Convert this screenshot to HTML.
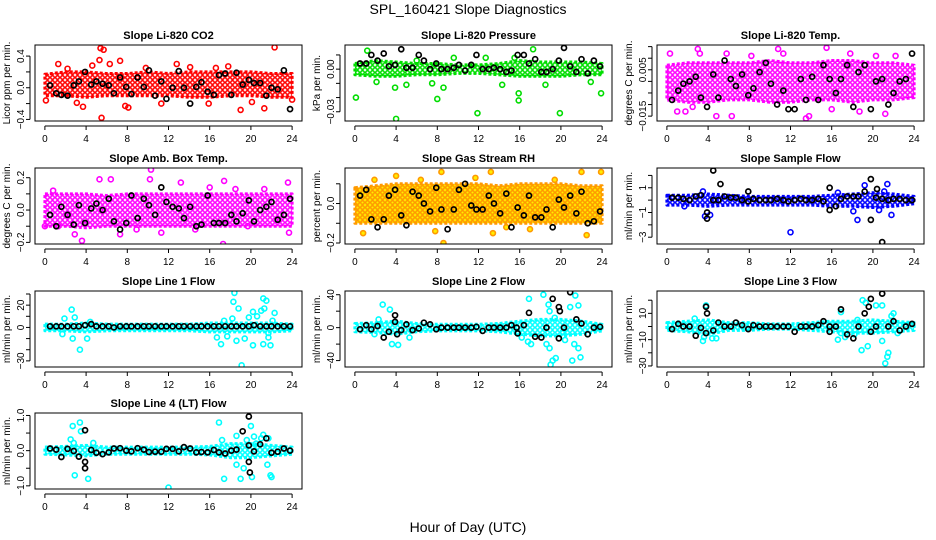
<!DOCTYPE html>
<html><head><meta charset="utf-8"><style>
html,body{margin:0;padding:0;background:#fff;}
svg{display:block;font-family:"Liberation Sans",sans-serif;}
</style></head><body>
<svg id="chart" width="936" height="540" viewBox="0 0 936 540">
<text x="468" y="14" text-anchor="middle" font-size="14">SPL_160421  Slope Diagnostics</text>
<text x="468" y="532" text-anchor="middle" font-size="14">Hour of Day (UTC)</text>
</svg>
<script>
// shared hours
const bandHours=[0,2,4,6,8,10,12,14,16,18,20,22,24];
const blkHours=[0.5,1.1,1.6,2.2,2.8,3.3,3.9,4.5,5.0,5.6,6.2,6.7,7.3,7.9,8.4,9.0,9.6,10.1,10.7,11.3,11.8,12.4,13.0,13.5,14.1,14.7,15.2,15.8,16.4,16.9,17.5,18.1,18.6,19.2,19.8,20.3,20.9,21.5,22.0,22.6,23.2,23.8];
const xTicks=[0,4,8,12,16,20,24];

// P1 CO2
const p1Lo=[-0.1,-0.1,-0.12,-0.1,-0.1,-0.1,-0.1,-0.12,-0.12,-0.1,-0.1,-0.12,-0.12];
const p1Hi=[0.17,0.2,0.2,0.18,0.18,0.2,0.18,0.2,0.2,0.2,0.2,0.18,0.18];
const p1Out=[5.4,0.5,5.7,0.48,5.5,-0.38,7.3,0.34,5.3,0.35,22.3,0.51,19.0,-0.28,21.3,-0.26,8.1,-0.25,7.8,-0.23,3.7,-0.24,2.2,0.24,11.3,-0.2,12.8,0.3,1.3,0.3,17.8,0.27,24,-0.15,0.1,-0.16,16.6,0.25,14.1,0.26,9.8,0.25,6.3,0.3,4.6,0.28,15.9,-0.2,20.1,-0.18,3.1,-0.19];
const p1Blk=[0.03,-0.07,-0.09,-0.1,0.03,0.08,0.2,0.04,0.08,0.05,0.03,-0.07,0.13,0.01,-0.08,0.13,0.01,0.22,-0.1,0.08,-0.14,0.0,0.21,0.0,-0.2,0.01,0.07,-0.05,-0.09,0.16,0.18,-0.09,0.19,0.04,0.1,0.06,0.06,-0.1,0.0,-0.02,0.22,-0.27];
// P2 Pressure
const p2Lo=[-0.004,-0.005,-0.005,-0.004,-0.004,-0.003,-0.003,-0.004,-0.005,-0.005,-0.005,-0.004,-0.004];
const p2Hi=[0.004,0.006,0.005,0.004,0.004,0.003,0.003,0.004,0.006,0.005,0.005,0.005,0.004];
const p2Out=[0.1,-0.02,4.0,-0.035,3.9,-0.013,8,-0.021,8.6,-0.013,11.9,-0.031,19.9,-0.031,15.9,-0.017,15.9,-0.022,23.9,-0.017,7.5,-0.01,14.3,-0.011,1.2,0.013,17.3,0.014,9.6,0.008,12.7,0.008,22.9,-0.009,18.5,-0.011,2.1,-0.009,5.0,-0.011,6.0,0.006,15.5,0.008];
const p2Blk=[0.004,0.004,0.01,0.006,0.011,0.002,0.003,0.014,0.001,0.001,0.01,0.006,0.0,0.004,0.0,0.0,0.001,0.003,-0.001,0.003,0.01,0.0,0.0,0.001,0.0,-0.002,-0.001,0.01,0.01,0.004,0.007,-0.002,-0.002,0.0,0.006,0.015,0.002,-0.002,0.007,-0.003,0.006,0.002];
// P3 Li-820 Temp
const p3Lo=[-0.008,-0.009,-0.009,-0.008,-0.008,-0.009,-0.009,-0.008,-0.008,-0.009,-0.008,-0.008,-0.007];
const p3Hi=[0.007,0.008,0.008,0.008,0.008,0.009,0.008,0.008,0.009,0.009,0.008,0.008,0.007];
const p3Out=[0.3,0.012,1,-0.013,1.8,-0.013,3,0.014,4.8,-0.015,6.3,-0.015,10.8,0.014,11.3,0.012,13.5,-0.016,13.8,-0.015,15.5,0.0145,17.8,0.012,18.7,-0.013,20.3,0.011,21.2,-0.014,22.2,0.011,5.8,0.012,3.2,0.012,8.2,0.011,2.5,-0.011,16.0,-0.012];
const p3Blk=[-0.008,-0.004,-0.001,0.0,0.002,-0.007,-0.011,0.003,-0.007,0.009,0.001,-0.002,0.003,-0.006,-0.003,0.004,0.008,-0.001,-0.01,-0.004,-0.012,-0.012,0.001,-0.008,0.002,-0.008,0.007,0.001,-0.005,0.001,0.007,-0.011,0.004,0.007,-0.012,0.0,0.001,-0.01,-0.005,0.0,0.001,0.012];
// P4 Amb Box Temp
const p4Lo=[-0.1,-0.1,-0.11,-0.1,-0.1,-0.1,-0.1,-0.1,-0.1,-0.1,-0.1,-0.1,-0.1];
const p4Hi=[0.1,0.1,0.1,0.09,0.1,0.1,0.1,0.1,0.1,0.1,0.1,0.1,0.1];
const p4Out=[0,-0.1,1.3,-0.1,3.6,-0.19,5.3,0.19,6.4,0.19,10.3,0.25,10.2,0.19,17.3,-0.21,17.4,0.18,2.9,-0.15,11.3,-0.14,13.2,0.17,16,0.14,19.7,-0.1,21.3,0.13,23.6,0.17,23.7,-0.14,8.9,-0.12,0.8,0.12,7.3,-0.15,14.6,-0.12,18.5,0.13];
const p4Blk=[-0.03,-0.1,0.02,-0.03,-0.09,0.03,-0.08,0.01,0.04,0.0,0.07,-0.07,-0.12,-0.08,0.09,-0.05,0.07,0.03,-0.03,0.14,0.05,0.02,0.01,-0.05,0.02,-0.1,-0.09,0.09,-0.08,-0.08,-0.08,-0.03,-0.07,-0.02,0.06,-0.07,0.0,0.02,0.05,-0.06,-0.03,0.07];
// P5 Gas Stream RH
const p5Lo=[-0.1,-0.1,-0.1,-0.1,-0.1,-0.1,-0.1,-0.1,-0.1,-0.1,-0.1,-0.1,-0.1];
const p5Hi=[0.08,0.09,0.1,0.1,0.1,0.1,0.1,0.09,0.1,0.1,0.1,0.09,0.09];
const p5Out=[0.8,-0.15,8.4,0.16,8.6,-0.2,13.2,0.16,13.4,-0.15,22.0,0.16,23.9,0.16,14.7,-0.12,17,-0.13,22.5,-0.16,4,0.14,1.9,0.12,11.7,0.13,6.4,0.12,19.4,0.12,7.8,-0.14];
const p5Blk=[0.04,0.07,-0.08,-0.12,-0.08,0.04,0.07,-0.06,-0.11,0.06,0.04,0.0,-0.04,0.08,-0.03,-0.13,-0.03,0.07,0.1,-0.01,-0.03,-0.03,0.04,0.0,-0.05,0.05,-0.12,-0.02,-0.06,0.04,-0.07,-0.07,-0.03,-0.12,0.02,-0.02,0.04,-0.05,0.06,-0.1,-0.09,-0.04];
// P6 Sample Flow
const p6Lo=[-0.4,-0.4,-0.5,-0.4,-0.4,-0.4,-0.4,-0.4,-0.5,-0.5,-0.6,-0.5,-0.3];
const p6Hi=[0.4,0.4,0.5,0.4,0.3,0.3,0.3,0.3,0.4,0.5,0.6,0.5,0.3];
const p6Out=[12,-2.6,3.7,-1.3,4.2,-1.2,18.5,-1.6,18.1,-0.9,19.2,1.2,21.4,1.3,21.8,-1.2,20.6,-0.8,21.1,0.7,1.7,-0.5,16.6,0.6,3.5,0.7];
const p6Blk=[0.2,0.2,0.1,0.0,0.3,0.4,-1.5,0.0,0.0,0.3,0.2,0.2,0.0,-0.1,0.1,0.0,0.0,0.0,0.1,0.0,-0.1,0.0,0.1,0.0,0.0,0.1,-0.1,1.0,-0.5,0.1,0.3,0.3,0.3,0.7,-1.6,0.2,0.1,0.0,0.1,0.1,0.0,0.0];
const p6BlkX=[4.5,2.4,5.2,1.3,7.9,0.7,15.8,-0.8,19.8,1.7,20.9,-3.4,20.4,0.9,3.9,-1.0];
// P7 Line 1 Flow
const p7Lo=[-3,-3,-4,-3,-3,-3,-3,-3,-4,-4,-4,-4,-3];
const p7Hi=[3,3,4,3,3,3,3,3,4,4,4,4,3];
const p7Out=[2.6,16,1.9,8,2.9,9,3.4,-20,2.7,-10,1.7,-6,4.1,-10,4.4,5,18.4,31,18.3,23,18.8,17,18.2,8,18.6,-12,19.1,-34,19.4,-10,19.8,9,20.2,14,20.6,10,21.0,15,21.2,26,21.5,24,21.3,17,21.2,-15,20.2,-16,21.7,-5,21.9,-16,22.3,13,22.1,6,17.1,-15,16.7,-9,17.4,6,17.7,-8,21.7,-9];
const p7Blk=[1,1,1,1,1,1,2,3,1,1,1,0,1,1,1,1,1,1,1,1,1,1,1,1,1,1,1,1,1,1,1,1,1,1,1,2,1,1,1,1,1,1];
// P8 Line 2 Flow
const p8Lo=[-5,-6,-8,-5,-4,-4,-4,-5,-8,-10,-10,-8,-4];
const p8Hi=[5,6,8,5,4,4,4,5,8,10,10,8,4];
const p8Out=[2.7,28,3.4,22,3.6,-20,4.2,-21,2.3,10,1.9,-8,5.3,-12,16.9,35,16.8,-17,17.1,-20,18.3,40,18.6,-20,18.8,28,19.0,-45,19.2,-40,19.5,-37,18.9,-25,20.4,-15,20.9,25,21.1,-40,21.3,-20,21.4,39,21.7,-25,21.9,-36,21.7,27,19.4,12,18.9,20,16.2,-12,15.8,-5,20.2,-5];
const p8Blk=[-2,3,-2,2,-12,-5,15,-3,4,-3,-1,6,4,-2,0,0,0,0,0,0,1,-4,0,0,0,0,3,-7,3,18,-11,-12,0,35,-13,0,43,10,5,-8,0,1];
const p8BlkX=[3.9,7,4.1,-8,19.8,25,19.9,20,15.7,0];
// P9 Line 3 Flow
const p9Lo=[-3,-4,-6,-3,-3,-2,-2,-3,-4,-5,-5,-4,-3];
const p9Hi=[3,4,5,3,3,2,2,3,4,4,5,4,3];
const p9Out=[3.8,16,3.5,-11,3.6,-8,2.7,6,4.8,-9,4.4,-9,16.9,11,16.6,-10,16.9,-5,17.3,-8,18.5,5,19,20,19.3,18,18.9,-18,19.5,-15,20.3,16,20.9,16,20.9,-11,21.2,-28,21.4,-23,21.5,-20,21.8,8,22.4,-5,22.0,10,20.5,3,18.2,-6];
const p9Blk=[-2,2,0,0,-7,-1,10,-3,3,0,0,3,1,-2,1,0,0,0,0,0,0,-4,0,0,0,1,4,-4,0,13,-6,-9,0,10,-4,0,25,0,4,-3,0,2];
const p9BlkX=[3.8,15,3.8,-5,19.6,15,19.8,21,15.8,0];
// P10 Line 4 (LT) Flow
const p10Lo=[-0.1,-0.12,-0.15,-0.1,-0.1,-0.1,-0.1,-0.1,-0.12,-0.2,-0.2,-0.15,-0.1];
const p10Hi=[0.1,0.12,0.15,0.1,0.1,0.1,0.1,0.1,0.12,0.2,0.2,0.15,0.1];
const p10Out=[2.7,0.7,3.4,0.8,3.5,0.55,2.5,0.32,2.9,-0.7,4.2,-0.8,2.8,0.22,4.7,0.22,12,-1.05,16.9,0.8,17.2,0.3,17.4,-0.8,18.6,0.42,18.6,-0.4,19.0,-0.8,19.3,-0.5,20.0,0.7,20.1,-0.75,20.5,0.2,21.0,0.35,21.2,0.45,21.7,0.35,21.6,-0.4,21.9,-0.7,22.0,-0.75,19.6,0.3,20.3,0.4];
const p10Blk=[0.06,0.03,-0.18,0.05,-0.01,-0.17,-0.5,0.02,-0.06,-0.1,-0.05,0.06,0.07,0.0,-0.02,0.07,0.03,-0.04,-0.03,-0.03,0.05,0.05,-0.02,0.1,0.06,-0.05,-0.04,-0.05,0.02,-0.05,-0.08,0.0,0.03,0.55,0.15,-0.02,0.18,0.35,-0.06,-0.03,0.06,0.0];
const p10BlkX=[3.9,0.58,3.9,-0.32,19.8,0.97,19.8,-0.32,19.9,-0.62];

const NS='http://www.w3.org/2000/svg';
const svg=document.getElementById('chart');
function mk(tag,attrs,parent){const e=document.createElementNS(NS,tag);for(const k in attrs)e.setAttribute(k,attrs[k]);(parent||svg).appendChild(e);return e;}

const cols=[35,345,657], rows=[45,168,291,413], W=267, H=76;
const panels=[
 {t:'Slope Li-820 CO2',yl:'Licor ppm per min.',ylim:[-0.42,0.54],tk:[-0.4,-0.2,0,0.2,0.4],lb:{'-0.4':'−0.4','0':'0.0','0.4':'0.4'},c:'#ff0000',lo:p1Lo,hi:p1Hi,out:p1Out,blk:p1Blk,bx:[]},
 {t:'Slope Li-820 Pressure',yl:'kPa per min.',ylim:[-0.0365,0.017],tk:[-0.04,-0.03,-0.02,-0.01,0,0.01],lb:{'-0.03':'−0.03','0':'0.00'},c:'#00dd00',lo:p2Lo,hi:p2Hi,out:p2Out,blk:p2Blk,bx:[]},
 {t:'Slope Li-820 Temp.',yl:'degrees C per min.',ylim:[-0.0171,0.0157],tk:[-0.015,-0.01,-0.005,0,0.005,0.01,0.015],lb:{'-0.015':'−0.015','0.005':'0.005'},c:'#ff00ff',lo:p3Lo,hi:p3Hi,out:p3Out,blk:p3Blk,bx:[]},
 {t:'Slope Amb. Box Temp.',yl:'degrees C per min.',ylim:[-0.21,0.26],tk:[-0.2,-0.1,0,0.1,0.2],lb:{'-0.2':'−0.2','0':'0.0','0.2':'0.2'},c:'#ff00ff',lo:p4Lo,hi:p4Hi,out:p4Out,blk:p4Blk,bx:[]},
 {t:'Slope Gas Stream RH',yl:'percent per min.',ylim:[-0.205,0.18],tk:[-0.2,-0.1,0,0.1],lb:{'-0.2':'−0.2','0':'0.0'},c:'#ff9900',c2:'#ffee00',lo:p5Lo,hi:p5Hi,out:p5Out,blk:p5Blk,bx:[]},
 {t:'Slope Sample Flow',yl:'ml/min per min.',ylim:[-3.55,2.6],tk:[-3,-2,-1,0,1,2],lb:{'-3':'−3','-1':'−1','1':'1'},c:'#0000ff',lo:p6Lo,hi:p6Hi,out:p6Out,blk:p6Blk,bx:p6BlkX},
 {t:'Slope Line 1 Flow',yl:'ml/min per min.',ylim:[-35.5,32.7],tk:[-30,-20,-10,0,10,20,30],lb:{'-30':'−30','0':'0','20':'20'},c:'#00ffff',lo:p7Lo,hi:p7Hi,out:p7Out,blk:p7Blk,bx:[]},
 {t:'Slope Line 2 Flow',yl:'ml/min per min.',ylim:[-47.8,44.5],tk:[-40,-20,0,20,40],lb:{'-40':'−40','0':'0','40':'40'},c:'#00ffff',lo:p8Lo,hi:p8Hi,out:p8Out,blk:p8Blk,bx:p8BlkX},
 {t:'Slope Line 3 Flow',yl:'ml/min per min.',ylim:[-30.8,27],tk:[-30,-20,-10,0,10,20],lb:{'-30':'−30','-10':'−10','10':'10'},c:'#00ffff',lo:p9Lo,hi:p9Hi,out:p9Out,blk:p9Blk,bx:p9BlkX},
 {t:'Slope Line 4 (LT) Flow',yl:'ml/min per min.',ylim:[-1.09,1.07],tk:[-1,-0.5,0,0.5,1],lb:{'-1':'−1.0','0':'0.0','1':'1.0'},c:'#00ffff',lo:p10Lo,hi:p10Hi,out:p10Out,blk:p10Blk,bx:p10BlkX}
];

panels.forEach((p,i)=>{
  const L=cols[i%3], T=rows[Math.floor(i/3)];
  const g=mk('g',{});
  
  
  const xs=h=>L+(h+0.96)/25.92*W;
  const ys=v=>T+H-(v-p.ylim[0])/(p.ylim[1]-p.ylim[0])*H;
  const cl=mk('clipPath',{id:'cp'+i},g);
  mk('rect',{x:L,y:T,width:W,height:H},cl);
  // texture pattern of small rings
  const pat=mk('pattern',{id:'pt'+i,width:5,height:5,patternUnits:'userSpaceOnUse'},g);
  mk('rect',{x:0,y:0,width:5,height:5,fill:p.c2?p.c2:'#fff'},pat);
  mk('circle',{cx:2.5,cy:2.5,r:1.8,fill:'none',stroke:p.c,'stroke-width':1.5},pat);
  const plot=mk('g',{'clip-path':'url(#cp'+i+')'},g);
  let d='';
  bandHours.forEach((h,j)=>{d+=(j?'L':'M')+xs(h).toFixed(1)+','+ys(p.hi[j]).toFixed(1);});
  for(let j=bandHours.length-1;j>=0;j--)d+='L'+xs(bandHours[j]).toFixed(1)+','+ys(p.lo[j]).toFixed(1);
  const band=mk('path',{d:d+'Z',fill:'url(#pt'+i+')',stroke:p.c,'stroke-width':3,'stroke-linejoin':'round','stroke-dasharray':'3 2'},plot);
  
  
  for(let j=0;j<p.out.length;j+=2){
    const c=mk('circle',{cx:xs(p.out[j]),cy:ys(p.out[j+1]),r:2.5,fill:p.c2?p.c2:'none',stroke:p.c,'stroke-width':1.6},plot);
    
    
  }
  blkHours.forEach((h,j)=>{
    const c=mk('circle',{cx:xs(h),cy:ys(p.blk[j]),r:2.5,fill:'none',stroke:'#000','stroke-width':1.7},plot);
    
    
  });
  for(let j=0;j<p.bx.length;j+=2){
    const c=mk('circle',{cx:xs(p.bx[j]),cy:ys(p.bx[j+1]),r:2.5,fill:'none',stroke:'#000','stroke-width':1.7},plot);
    
    
  }
  const box=mk('rect',{x:L,y:T,width:W,height:H,fill:'none',stroke:'#000','stroke-width':1},g);
  
  
  const tt=mk('text',{x:L+W/2,y:T-6,'text-anchor':'middle','font-size':11,'font-weight':'bold'},g);
  tt.textContent=p.t;
  
  
  mk('line',{x1:xs(0),x2:xs(24),y1:T+H+5,y2:T+H+5,stroke:'#000'},g);
  xTicks.forEach(h=>{
    mk('line',{x1:xs(h),x2:xs(h),y1:T+H+5,y2:T+H+9,stroke:'#000'},g);
    const t=mk('text',{x:xs(h),y:T+H+21,'text-anchor':'middle','font-size':10},g);
    t.textContent=h;
    
    
  });
  const vis=p.tk.filter(v=>ys(v)>=T-1&&ys(v)<=T+H+1);
  mk('line',{x1:L-5,x2:L-5,y1:ys(vis[0]),y2:ys(vis[vis.length-1]),stroke:'#000'},g);
  vis.forEach(v=>{
    mk('line',{x1:L-9,x2:L-5,y1:ys(v),y2:ys(v),stroke:'#000'},g);
    const key=String(v);
    if(p.lb[key]!==undefined){
      const t=mk('text',{x:0,y:0,'text-anchor':'middle','font-size':10,transform:'translate('+(L-11)+','+ys(v)+') rotate(-90)'},g);
      t.textContent=p.lb[key];
      
      
    }
  });
  const yl=mk('text',{x:0,y:0,'text-anchor':'middle','font-size':10,transform:'translate('+(L-25)+','+(T+H/2)+') rotate(-90)'},g);
  yl.textContent=p.yl;
  
  
});
</script>
</body></html>
